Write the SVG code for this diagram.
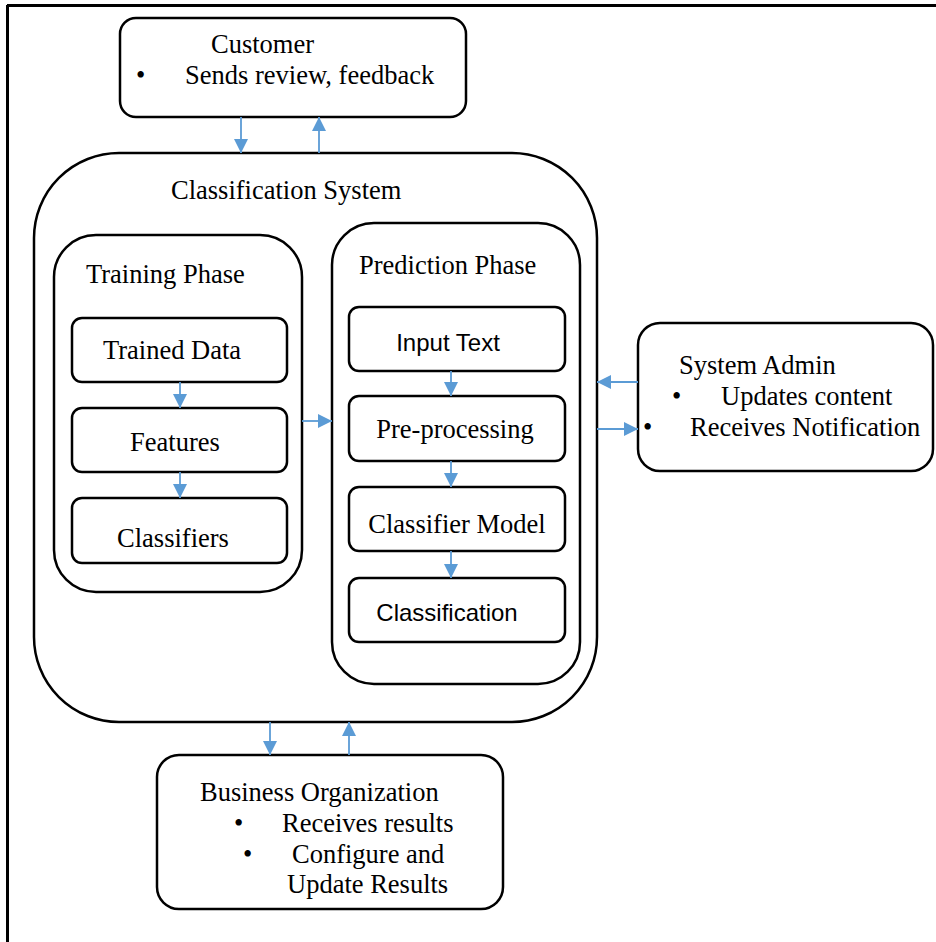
<svg xmlns="http://www.w3.org/2000/svg" width="936" height="942" viewBox="0 0 936 942">
<style>
.box{fill:#fff;stroke:#000;stroke-width:2.5}
.t{font-family:"Liberation Serif","Times New Roman",serif;font-size:26.5px;fill:#000}
.s{font-family:"Liberation Sans",Arial,sans-serif;font-size:24px;fill:#000}
.c{stroke:#5B9BD5;stroke-width:1.8;fill:none}
</style>
<defs>
<marker id="ah" viewBox="0 0 10 10" refX="10" refY="5" markerWidth="14" markerHeight="14" markerUnits="userSpaceOnUse" orient="auto">
<path d="M0,0 L10,5 L0,10 Z" fill="#5B9BD5"/>
</marker>
</defs>
<rect width="936" height="942" fill="#fff"/>
<g id="frame">
<line x1="7" y1="5.5" x2="936" y2="5.5" stroke="#000" stroke-width="3"/>
<line x1="7.5" y1="5" x2="7.5" y2="942" stroke="#000" stroke-width="3"/>
</g>
<g id="customer">
<rect class="box" x="120" y="18" width="346" height="99" rx="16"/>
<text class="t" x="211" y="53">Customer</text>
<text class="t" x="136" y="84">•</text>
<text class="t" x="185" y="84">Sends review, feedback</text>
</g>
<g id="classification-system">
<rect class="box" x="34" y="153" width="563" height="569" rx="85"/>
<text class="t" x="171" y="199">Classification System</text>
</g>
<g id="training-phase">
<rect class="box" x="54" y="235" width="248" height="357" rx="42"/>
<text class="t" x="86" y="283">Training Phase</text>
</g>
<g id="trained-data">
<rect class="box" x="72" y="318" width="215" height="64" rx="10"/>
<text class="t" x="172" y="359" text-anchor="middle">Trained Data</text>
</g>
<g id="features">
<rect class="box" x="72" y="408" width="215" height="64" rx="10"/>
<text class="t" x="175" y="451" text-anchor="middle">Features</text>
</g>
<g id="classifiers">
<rect class="box" x="72" y="498" width="215" height="65" rx="10"/>
<text class="t" x="173" y="547" text-anchor="middle">Classifiers</text>
</g>
<g id="prediction-phase">
<rect class="box" x="332" y="223" width="248" height="461" rx="42"/>
<text class="t" x="359" y="274">Prediction Phase</text>
</g>
<g id="input-text">
<rect class="box" x="349" y="307" width="216" height="64" rx="10"/>
<text class="s" x="448" y="351" text-anchor="middle">Input Text</text>
</g>
<g id="pre-processing">
<rect class="box" x="349" y="396" width="216" height="65" rx="10"/>
<text class="t" x="455" y="438" text-anchor="middle">Pre-processing</text>
</g>
<g id="classifier-model">
<rect class="box" x="349" y="487" width="216" height="64" rx="10"/>
<text class="t" x="457" y="533" text-anchor="middle">Classifier Model</text>
</g>
<g id="classification">
<rect class="box" x="349" y="578" width="216" height="64" rx="10"/>
<text class="s" x="447" y="621" text-anchor="middle">Classification</text>
</g>
<g id="system-admin">
<rect class="box" x="638" y="323" width="295" height="148" rx="22"/>
<text class="t" x="679" y="374">System Admin</text>
<text class="t" x="672" y="405">•</text>
<text class="t" x="721" y="405">Updates content</text>
<text class="t" x="643" y="436">•</text>
<text class="t" x="690" y="436">Receives Notification</text>
</g>
<g id="business-organization">
<rect class="box" x="157" y="755" width="346" height="154" rx="22"/>
<text class="t" x="200" y="801">Business Organization</text>
<text class="t" x="234" y="832">•</text>
<text class="t" x="282" y="832">Receives results</text>
<text class="t" x="243" y="863">•</text>
<text class="t" x="292" y="863">Configure and</text>
<text class="t" x="287" y="893">Update Results</text>
</g>
<g id="connectors">
<line class="c" x1="241" y1="117" x2="241" y2="153" marker-end="url(#ah)"/>
<line class="c" x1="319" y1="153" x2="319" y2="117" marker-end="url(#ah)"/>
<line class="c" x1="180" y1="382" x2="180" y2="408" marker-end="url(#ah)"/>
<line class="c" x1="180" y1="472" x2="180" y2="498" marker-end="url(#ah)"/>
<line class="c" x1="302" y1="421" x2="332" y2="421" marker-end="url(#ah)"/>
<line class="c" x1="451" y1="371" x2="451" y2="396" marker-end="url(#ah)"/>
<line class="c" x1="451" y1="461" x2="451" y2="487" marker-end="url(#ah)"/>
<line class="c" x1="451" y1="551" x2="451" y2="578" marker-end="url(#ah)"/>
<line class="c" x1="638" y1="382" x2="597" y2="382" marker-end="url(#ah)"/>
<line class="c" x1="597" y1="429" x2="638" y2="429" marker-end="url(#ah)"/>
<line class="c" x1="270" y1="722" x2="270" y2="755" marker-end="url(#ah)"/>
<line class="c" x1="349" y1="755" x2="349" y2="722" marker-end="url(#ah)"/>
</g>
</svg>
